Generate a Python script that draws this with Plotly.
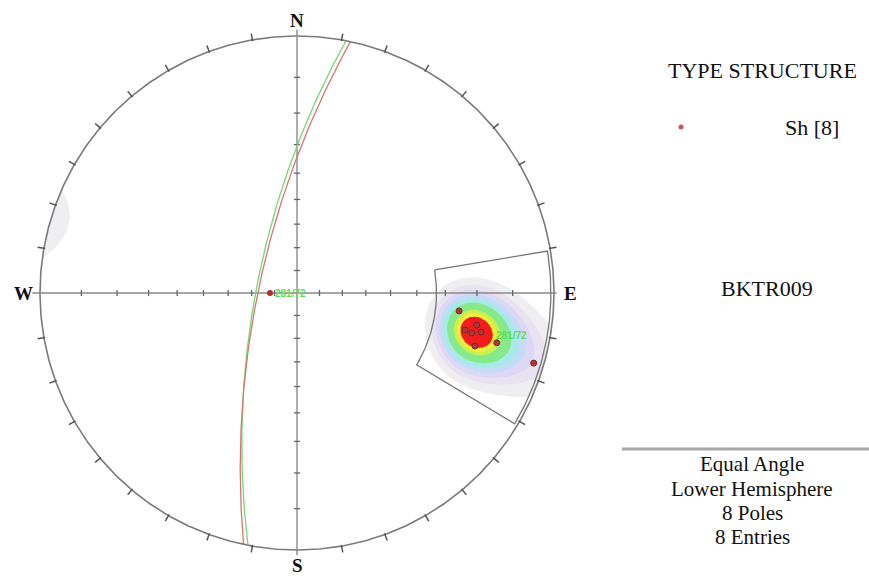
import numpy as np
import plotly.graph_objects as go

# ---------------- data ----------------
pole_trend = [96.3, 102.4, 100.1, 102.9, 102.0, 106.6, 104.0, 106.5]
pole_plunge = [25.2, 22.4, 19.2, 20.2, 17.6, 18.3, 12.6, 2.3]

plane_dipdir = [281, 282]
plane_dip = [72, 73]

vector_trend = [270]
vector_plunge = [78]

label_text = "281/72"

window_trend = [80.5, 121.0]
window_plunge = [0.7, 33.0]

tick_azimuths = list(range(0, 360, 10))
axis_tick_plunges = [80, 70, 60, 50, 40, 30, 20, 10]

cardinal_labels = ["N", "E", "S", "W"]
cardinal_az = [0, 90, 180, 270]

# density contour levels (fraction of maximum density)
contour_levels = [0.13, 0.22, 0.30, 0.38, 0.46, 0.55, 0.72, 0.79, 0.85]

legend_title = "TYPE STRUCTURE"
legend_entry = "Sh [8]"
dataset_name = "BKTR009"
info_lines = ["Equal Angle", "Lower Hemisphere", "8 Poles", "8 Entries"]

# ---------------- helpers ----------------
def proj(trend, plunge):
    t = np.radians(np.asarray(trend, float))
    p = np.radians(np.asarray(plunge, float))
    r = np.tan((np.pi / 2 - p) / 2)
    return r * np.sin(t), r * np.cos(t)

def vec(trend, plunge):
    t = np.radians(np.asarray(trend, float))
    p = np.radians(np.asarray(plunge, float))
    return np.stack([np.cos(p) * np.sin(t), np.cos(p) * np.cos(t), np.sin(p)], -1)

def great_circle(dd, dip, n=200):
    d = np.radians(dd); a = np.radians(dip)
    s = np.array([np.sin(d - np.pi / 2), np.cos(d - np.pi / 2), 0.0])
    dv = np.array([np.cos(a) * np.sin(d), np.cos(a) * np.cos(d), np.sin(a)])
    ang = np.linspace(0, np.pi, n)
    v = np.cos(ang)[:, None] * s + np.sin(ang)[:, None] * dv
    v[v[:, 2] < 0] *= -1
    return v[:, 0] / (1 + v[:, 2]), v[:, 1] / (1 + v[:, 2])

fig = go.Figure()

# ---------------- density contours ----------------
kappa = 60.0
g = np.linspace(-1.0, 1.0, 321)
GX, GY = np.meshgrid(g, g)
rho = np.hypot(GX, GY)
theta = 2 * np.arctan(rho)
with np.errstate(invalid="ignore", divide="ignore"):
    ux = np.where(rho > 0, GX / rho, 0.0)
    uy = np.where(rho > 0, GY / rho, 0.0)
V = np.stack([np.sin(theta) * ux, np.sin(theta) * uy, np.cos(theta)], -1)
P = vec(pole_trend, pole_plunge)
dots = np.abs(V @ P.T)
dens = np.exp(kappa * (dots - 1)).sum(-1)
inside = rho <= 1.0
dens = np.where(inside, dens, 0.0)
zn = dens / dens[inside].max()
edges = [0.0] + contour_levels + [1.0]
zb = np.interp(zn, edges, np.arange(len(edges)))

band_colors = ["rgba(255,255,255,0)", "#efeff1", "#e9e3f1", "#dcd8f5", "#c4dcf6",
               "#a6eaea", "#86ea8c", "#c8f050", "#f8ec3a", "#f21c1c"]
nb = len(band_colors)
cs = []
for i, c in enumerate(band_colors):
    lo = max(0.0, (i - 0.5) / (nb - 1))
    hi = min(1.0, (i + 0.5) / (nb - 1))
    cs.append([lo, c]); cs.append([hi, c])

fig.add_trace(go.Contour(
    x=g, y=g, z=zb, zmin=0, zmax=len(edges) - 1,
    contours=dict(start=1, end=len(contour_levels), size=1, coloring="fill", showlines=False),
    colorscale=cs, showscale=False, line_width=0, hoverinfo="skip"))

# ---------------- primitive and ticks ----------------
aa = np.linspace(0, 2 * np.pi, 721)
fig.add_trace(go.Scatter(x=np.sin(aa), y=np.cos(aa), mode="lines",
                         line=dict(color="#7a7a7a", width=1.6), hoverinfo="skip"))

tx, ty = [], []
for az in tick_azimuths:
    if az % 90 == 0:
        continue
    a = np.radians(az)
    tx += [0.995 * np.sin(a), 1.025 * np.sin(a), None]
    ty += [0.995 * np.cos(a), 1.025 * np.cos(a), None]
fig.add_trace(go.Scatter(x=tx, y=ty, mode="lines",
                         line=dict(color="#555555", width=1.5), hoverinfo="skip"))

# axes
fig.add_trace(go.Scatter(x=[-1.03, 1.01, None, 0, 0], y=[0, 0, None, 1.025, -1.02],
                         mode="lines", line=dict(color="#8a8a8a", width=1.4), hoverinfo="skip"))
ax_x, ax_y = [], []
h = 0.012
for p in axis_tick_plunges:
    r = np.tan(np.radians(90 - p) / 2)
    for s in (1, -1):
        ax_x += [s * r, s * r, None]; ax_y += [-h, h, None]
        ax_x += [-h, h, None]; ax_y += [s * r, s * r, None]
fig.add_trace(go.Scatter(x=ax_x, y=ax_y, mode="lines",
                         line=dict(color="#666666", width=1.3), hoverinfo="skip"))

# ---------------- window sector ----------------
ta = np.linspace(window_trend[0], window_trend[1], 80)
x_in, y_in = proj(ta, np.full_like(ta, window_plunge[1]))
x_out, y_out = proj(ta, np.full_like(ta, window_plunge[0]))
wx = list(x_in) + list(x_out[::-1]) + [x_in[0]]
wy = list(y_in) + list(y_out[::-1]) + [y_in[0]]
fig.add_trace(go.Scatter(x=wx, y=wy, mode="lines",
                         line=dict(color="#777777", width=1.3), hoverinfo="skip"))

# ---------------- great circles ----------------
plane_cols = ["#74d874", "#d87474"]
for dd, dp, col in zip(plane_dipdir, plane_dip, plane_cols):
    gx, gy = great_circle(dd, dp)
    fig.add_trace(go.Scatter(x=gx, y=gy, mode="lines",
                             line=dict(color=col, width=1.3), hoverinfo="skip"))

# ---------------- poles ----------------
px, py = proj(pole_trend, pole_plunge)
fig.add_trace(go.Scatter(x=px, y=py, mode="markers",
                         marker=dict(size=6, color="#b03636",
                                     line=dict(color="#7e2626", width=1)),
                         hoverinfo="skip"))
vx, vy = proj(vector_trend, vector_plunge)
fig.add_trace(go.Scatter(x=vx, y=vy, mode="markers",
                         marker=dict(size=6, color="#a83030", symbol="circle"),
                         hoverinfo="skip"))

# green labels
lpx, lpy = proj([plane_dipdir[0] - 180], [90 - plane_dip[0]])
fig.add_annotation(x=lpx[0], y=lpy[0], text="<b>" + label_text + "</b>", showarrow=False,
                   xanchor="left", yanchor="middle", xshift=14, yshift=-7,
                   font=dict(family="Liberation Sans", size=10, color="#5edc5e"))
fig.add_annotation(x=vx[0], y=vy[0], text="<b>" + label_text + "</b>", showarrow=False,
                   xanchor="left", yanchor="middle", xshift=3, yshift=0,
                   font=dict(family="Liberation Sans", size=10, color="#5edc5e"))

# ---------------- cardinal labels ----------------
for lab, az in zip(cardinal_labels, cardinal_az):
    a = np.radians(az)
    r = 1.06 if az in (0, 180) else 1.065
    fig.add_annotation(x=r * np.sin(a), y=r * np.cos(a), text="<b>" + lab + "</b>",
                       showarrow=False, xanchor="center", yanchor="middle",
                       font=dict(family="Liberation Serif", size=19, color="#111111"))

# ---------------- right panel ----------------
W, H = 869, 576
def pp(x, y):
    return x / W, 1 - y / H

serif = dict(family="Liberation Serif", size=22, color="#111111")
x0, y0 = pp(762, 70)
fig.add_annotation(x=x0, y=y0, xref="paper", yref="paper", text=legend_title,
                   showarrow=False, xanchor="center", yanchor="middle", font=serif)
x0, y0 = pp(812, 127)
fig.add_annotation(x=x0, y=y0, xref="paper", yref="paper", text=legend_entry,
                   showarrow=False, xanchor="center", yanchor="middle", font=serif)
x0, y0 = pp(681, 127)
fig.add_trace(go.Scatter(x=[x0], y=[y0], xaxis="x2", yaxis="y2", mode="markers",
                         marker=dict(size=5, color="#c05a5a"), hoverinfo="skip"))
x0, y0 = pp(767, 288)
fig.add_annotation(x=x0, y=y0, xref="paper", yref="paper", text=dataset_name,
                   showarrow=False, xanchor="center", yanchor="middle", font=serif)
info_font = dict(family="Liberation Serif", size=21, color="#111111")
for txt, yy in zip(info_lines, [464, 489, 513, 537]):
    x0, y0 = pp(752, yy)
    fig.add_annotation(x=x0, y=y0, xref="paper", yref="paper", text=txt,
                       showarrow=False, xanchor="center", yanchor="middle", font=info_font)
lx0, ly = pp(622, 449)
fig.add_shape(type="line", xref="paper", yref="paper", x0=lx0, x1=1, y0=ly, y1=ly,
              line=dict(color="#a8a8a8", width=3))

R = 257.0
cx, cy = 297.0, 293.0
fig.update_layout(
    width=W, height=H, margin=dict(l=0, r=0, t=0, b=0),
    paper_bgcolor="white", plot_bgcolor="white", showlegend=False,
    xaxis=dict(range=[-cx / R, (W - cx) / R], visible=False, domain=[0, 1]),
    yaxis=dict(range=[-(H - cy) / R, cy / R], visible=False, domain=[0, 1]),
    xaxis2=dict(range=[0, 1], visible=False, overlaying="x", domain=[0, 1]),
    yaxis2=dict(range=[0, 1], visible=False, overlaying="y", domain=[0, 1]),
)

fig.write_html("out.html", config={"displayModeBar": False},
               post_script="document.body.style.margin='0';document.body.style.overflow='hidden';")
